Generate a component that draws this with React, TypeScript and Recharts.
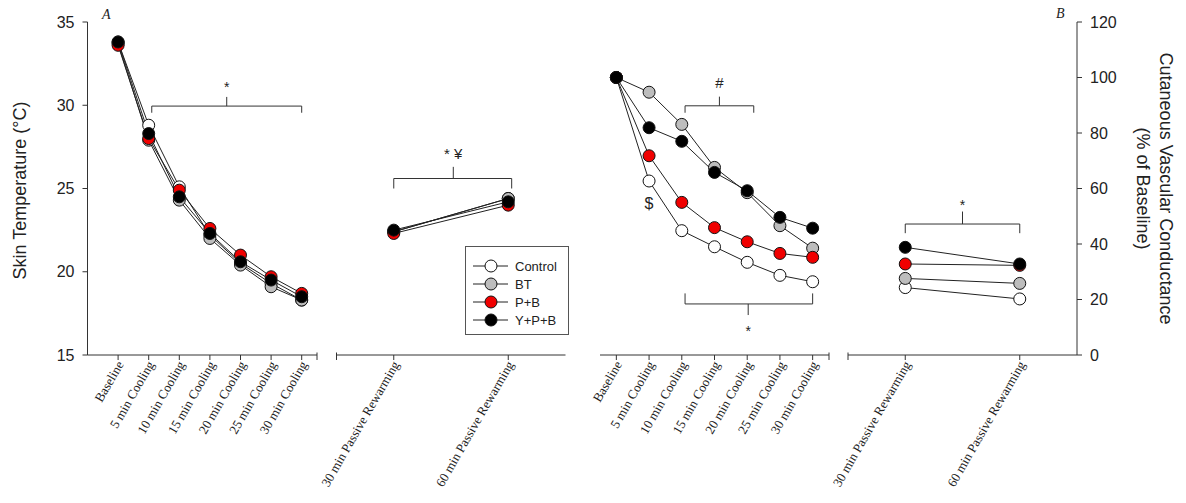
import React from "react";
import { LineChart, Line, XAxis, YAxis, ReferenceLine, ReferenceDot, Legend, Label } from "recharts";

const coolingLabels = [
  "Baseline",
  "5 min Cooling",
  "10 min Cooling",
  "15 min Cooling",
  "20 min Cooling",
  "25 min Cooling",
  "30 min Cooling",
];
const rewarmLabels = ["30 min Passive Rewarming", "60 min Passive Rewarming"];

const groups = ["Control", "BT", "P+B", "Y+P+B"];
const groupColors = ["#ffffff", "#bdbdbd", "#f00000", "#000000"];

// skin temperature (°C)
const tskCoolControl = [33.8, 28.8, 25.1, 22.2, 20.5, 19.3, 18.3];
const tskCoolBT = [33.7, 27.9, 24.3, 22.0, 20.4, 19.1, 18.3];
const tskCoolPB = [33.6, 28.0, 24.9, 22.6, 21.0, 19.7, 18.7];
const tskCoolYPB = [33.8, 28.3, 24.5, 22.3, 20.6, 19.5, 18.5];
const tskWarmControl = [22.4, 24.4];
const tskWarmBT = [22.4, 24.4];
const tskWarmPB = [22.3, 24.0];
const tskWarmYPB = [22.5, 24.2];

// cutaneous vascular conductance (% of baseline)
const cvcCoolControl = [100, 62.7, 44.8, 39.0, 33.4, 28.7, 26.4];
const cvcCoolBT = [100, 94.7, 83.1, 67.6, 58.5, 46.6, 38.5];
const cvcCoolPB = [100, 71.8, 55.0, 45.9, 40.8, 36.6, 35.2];
const cvcCoolYPB = [100, 81.9, 77.0, 65.8, 59.2, 49.6, 45.7];
const cvcWarmControl = [24.3, 20.2];
const cvcWarmBT = [27.6, 25.8];
const cvcWarmPB = [32.8, 32.3];
const cvcWarmYPB = [38.8, 32.8];

const tskTicks = [15, 20, 25, 30, 35];
const cvcTicks = [0, 20, 40, 60, 80, 100, 120];

const W = 1186;
const H = 503;
const AXIS = "#333";
const SANS = "'Liberation Sans', Arial, sans-serif";
const SERIF = "'Liberation Serif', 'Times New Roman', serif";

function buildRows(labels: string[], series: number[][]) {
  return labels.map((label, i) => {
    const row: Record<string, number | string> = { x: i, label };
    groups.forEach((g, k) => {
      row[g] = series[k][i];
    });
    return row;
  });
}

const tskCool = buildRows(coolingLabels, [tskCoolControl, tskCoolBT, tskCoolPB, tskCoolYPB]);
const tskWarm = buildRows(rewarmLabels, [tskWarmControl, tskWarmBT, tskWarmPB, tskWarmYPB]);
const cvcCool = buildRows(coolingLabels, [cvcCoolControl, cvcCoolBT, cvcCoolPB, cvcCoolYPB]);
const cvcWarm = buildRows(rewarmLabels, [cvcWarmControl, cvcWarmBT, cvcWarmPB, cvcWarmYPB]);

function XTick(props: any) {
  const { x, y, payload, labels } = props;
  return (
    <g transform={`translate(${x + 2},${y})`}>
      <text
        transform="rotate(-60)"
        textAnchor="end"
        dy="0.35em"
        fontFamily={SERIF}
        fontSize={13}
        fill="#222"
      >
        {labels[payload.value]}
      </text>
    </g>
  );
}

function bracket(
  key: string,
  x1: number,
  x2: number,
  y: number,
  capY: number,
  cx: number,
  tipY: number,
  text: string,
  textY: number,
  fontSize = 14
) {
  const seg = (a: [number, number], b: [number, number], k: string) => (
    <ReferenceLine
      key={key + k}
      segment={[
        { x: a[0], y: a[1] },
        { x: b[0], y: b[1] },
      ]}
      stroke={AXIS}
      strokeWidth={1}
      ifOverflow="visible"
    />
  );
  return [
    seg([x1, y], [x2, y], "h"),
    seg([x1, y], [x1, capY], "l"),
    seg([x2, y], [x2, capY], "r"),
    seg([cx, y], [cx, tipY], "c"),
    <ReferenceDot
      key={key + "t"}
      x={cx}
      y={textY}
      r={0}
      fill="none"
      stroke="none"
      ifOverflow="visible"
      label={{ value: text, position: "center", fill: "#222", fontSize, fontFamily: SANS }}
    />,
  ];
}

function breakMark(key: string, x: number, yMin: number, below: number, above: number) {
  return (
    <ReferenceLine
      key={key}
      segment={[
        { x, y: yMin - below },
        { x, y: yMin + above },
      ]}
      stroke={AXIS}
      strokeWidth={1}
      ifOverflow="visible"
    />
  );
}

// legend keeps the series order, not the alphabetical one
function LegendBox() {
  return (
    <div
      style={{
        width: 104,
        height: 89,
        boxSizing: "border-box",
        border: "1px solid #555",
        background: "#fff",
        paddingTop: 10,
        fontFamily: SANS,
        fontSize: 13,
        color: "#222",
      }}
    >
      {groups.map((g, i) => (
        <div key={g} style={{ display: "flex", alignItems: "center", height: 18 }}>
          <svg width={49} height={18} style={{ flex: "none" }}>
            <line x1={7} y1={9} x2={42} y2={9} stroke="#222" strokeWidth={1} />
            <circle cx={25} cy={9} r={6} fill={groupColors[i]} stroke="#111" strokeWidth={1} />
          </svg>
          <span>{g}</span>
        </div>
      ))}
    </div>
  );
}

interface SegmentProps {
  rows: Record<string, number | string>[];
  labels: string[];
  xDomain: [number, number];
  plotLeft: number;
  plotRight: number;
  yDomain: [number, number];
  yTicks: number[];
  yAxis: "left" | "right" | "none";
  children?: React.ReactNode;
}

function Segment({ rows, labels, xDomain, plotLeft, plotRight, yDomain, yTicks, yAxis, children }: SegmentProps) {
  const yW = 60;
  const margin = {
    top: 22,
    bottom: 8,
    left: yAxis === "left" ? plotLeft - yW : plotLeft,
    right: yAxis === "right" ? W - plotRight - yW : W - plotRight,
  };
  return (
    <div style={{ position: "absolute", left: 0, top: 0 }}>
      <LineChart width={W} height={H} data={rows} margin={margin}>
        <XAxis
          type="number"
          dataKey="x"
          domain={xDomain}
          ticks={labels.map((_, i) => i)}
          interval={0}
          height={140}
          allowDataOverflow
          stroke={AXIS}
          tickSize={5}
          tick={(p: any) => <XTick {...p} labels={labels} />}
        />
        <YAxis
          hide={yAxis === "none"}
          orientation={yAxis === "right" ? "right" : "left"}
          domain={yDomain}
          ticks={yTicks}
          interval={0}
          width={yW}
          stroke={AXIS}
          tickSize={5}
          tickMargin={8}
          tick={{ fill: "#222", fontSize: 16, fontFamily: SANS }}
        >
          {yAxis === "left" && (
            <Label
              content={(p: any) => (
                <text
                  transform={`translate(20,${p.viewBox.y + p.viewBox.height / 2 + 2}) rotate(-90)`}
                  textAnchor="middle"
                  dominantBaseline="central"
                  fontFamily={SANS}
                  fontSize={18}
                  fill="#222"
                >
                  Skin Temperature (°C)
                </text>
              )}
            />
          )}
          {yAxis === "right" && (
            <Label
              content={(p: any) => (
                <g>
                  <text
                    transform={`translate(1166,${p.viewBox.y + p.viewBox.height / 2}) rotate(90)`}
                    textAnchor="middle"
                    dominantBaseline="central"
                    fontFamily={SANS}
                    fontSize={18}
                    fill="#222"
                  >
                    Cutaneous Vascular Conductance
                  </text>
                  <text
                    transform={`translate(1143,${p.viewBox.y + p.viewBox.height / 2}) rotate(90)`}
                    textAnchor="middle"
                    dominantBaseline="central"
                    fontFamily={SANS}
                    fontSize={18}
                    fill="#222"
                  >
                    (% of Baseline)
                  </text>
                </g>
              )}
            />
          )}
        </YAxis>
        {groups.map((g, k) => (
          <Line
            key={g}
            type="linear"
            dataKey={g}
            name={g}
            stroke="#222"
            strokeWidth={1}
            dot={{ r: 6, fill: groupColors[k], stroke: "#111", strokeWidth: 1 }}
            isAnimationActive={false}
          />
        ))}
        {children}
      </LineChart>
    </div>
  );
}

export default function App() {
  return (
    <div style={{ position: "relative", width: W, height: H, background: "#fff", overflow: "hidden" }}>
      <style>{"body{margin:0}"}</style>

      <Segment
        rows={tskCool}
        labels={coolingLabels}
        xDomain={[-1, 6.5]}
        plotLeft={87.5}
        plotRight={317}
        yDomain={[15, 35]}
        yTicks={tskTicks}
        yAxis="left"
      >
        {breakMark("a1b", 6.5, 15, 0.3, 0.15)}
        {bracket("a1", 1.1, 6, 29.95, 29.55, 3.55, 30.5, "*", 31.07)}
      </Segment>

      <Segment
        rows={tskWarm}
        labels={rewarmLabels}
        xDomain={[-0.5, 1.5]}
        plotLeft={336.5}
        plotRight={565.5}
        yDomain={[15, 35]}
        yTicks={tskTicks}
        yAxis="none"
      >
        {breakMark("a2b", -0.5, 15, 0.3, 0.15)}
        {bracket("a2", 0, 1.03, 25.6, 25.0, 0.52, 26.3, "* ¥", 27.1, 15)}
        <Legend
          layout="vertical"
          align="center"
          verticalAlign="middle"
          content={LegendBox}
          wrapperStyle={{ left: 465, top: 246, width: 104, height: 89 }}
        />
      </Segment>

      <Segment
        rows={cvcCool}
        labels={coolingLabels}
        xDomain={[-0.5, 6.5]}
        plotLeft={600}
        plotRight={829}
        yDomain={[0, 120]}
        yTicks={cvcTicks}
        yAxis="none"
      >
        {breakMark("b1b", 6.5, 0, 1.8, 0.9)}
        {bracket("b1t", 2.1, 4.2, 89.8, 87.3, 3.15, 93.1, "#", 98.1, 15)}
        {bracket("b1s", 2.1, 6, 18.4, 22.2, 4.03, 14.4, "*", 8.8)}
        <ReferenceDot
          x={1}
          y={54.7}
          r={0}
          fill="none"
          stroke="none"
          ifOverflow="visible"
          label={{ value: "$", position: "center", fill: "#222", fontSize: 16, fontFamily: SANS }}
        />
      </Segment>

      <Segment
        rows={cvcWarm}
        labels={rewarmLabels}
        xDomain={[-0.5, 1.5]}
        plotLeft={848}
        plotRight={1077}
        yDomain={[0, 120]}
        yTicks={cvcTicks}
        yAxis="right"
      >
        {breakMark("b2b", -0.5, 0, 1.8, 0.9)}
        {bracket("b2", 0, 1, 47.2, 43.9, 0.5, 51.7, "*", 54.1)}
      </Segment>

      <div
        style={{
          position: "absolute",
          left: 102,
          top: 7,
          fontFamily: SERIF,
          fontStyle: "italic",
          fontSize: 14,
          color: "#222",
        }}
      >
        A
      </div>
      <div
        style={{
          position: "absolute",
          left: 1056,
          top: 6,
          fontFamily: SERIF,
          fontStyle: "italic",
          fontSize: 14,
          color: "#222",
        }}
      >
        B
      </div>
    </div>
  );
}
